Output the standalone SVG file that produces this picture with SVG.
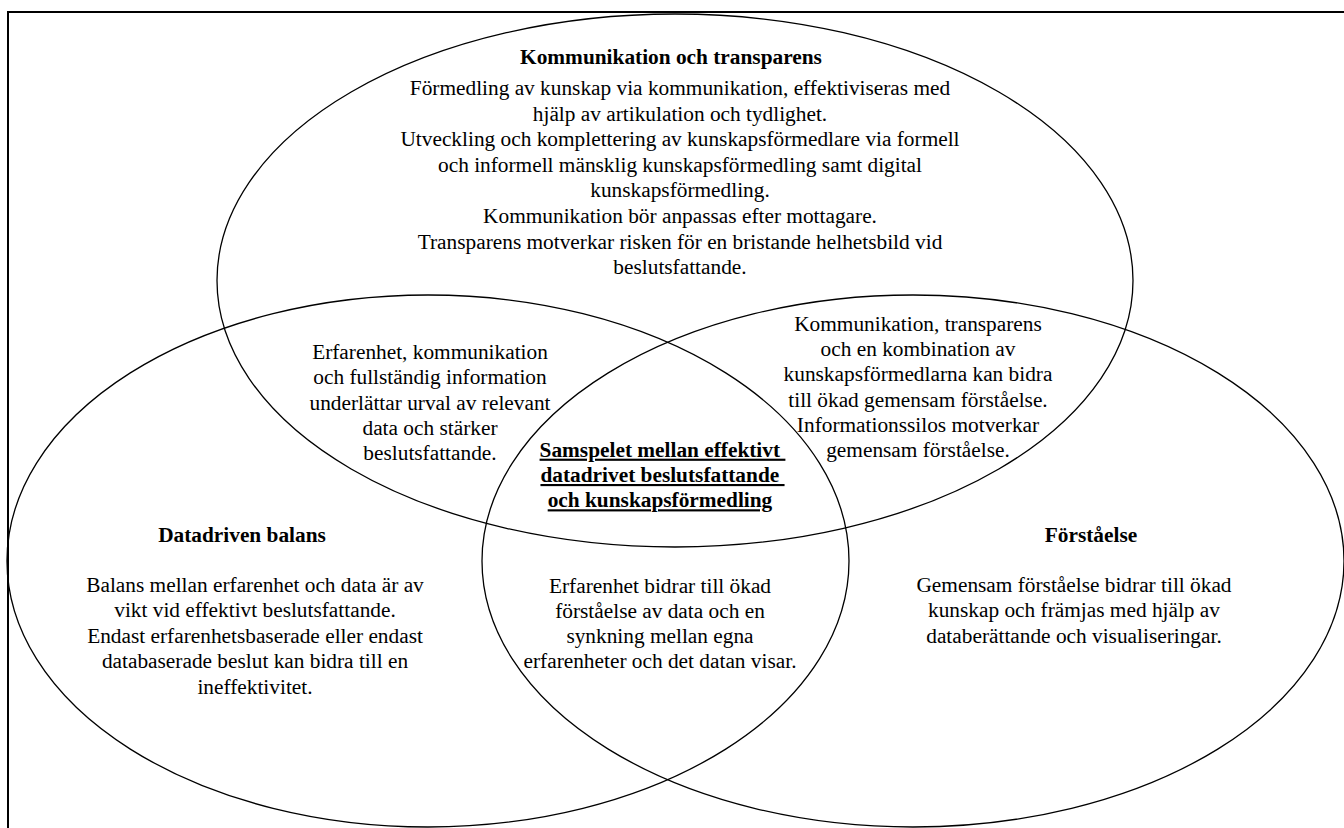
<svg xmlns="http://www.w3.org/2000/svg" width="1344" height="828" viewBox="0 0 1344 828">
<style>
text { font-family: "Liberation Serif", "Times New Roman", serif; font-size: 21.33px; fill: #000; text-anchor: middle; }
.b { font-weight: bold; }
.u { text-decoration: underline; white-space: pre; }
.ell { fill: none; stroke: #000; stroke-width: 1.3; }
</style>
<rect x="0" y="0" width="1344" height="828" fill="#fff"/>
<rect id="frame" x="8" y="12" width="1400" height="900" fill="none" stroke="#000" stroke-width="2"/>
<g id="connectors"/>
<g id="ellipses">
  <ellipse class="ell" cx="675" cy="280.5" rx="458" ry="266.5"/>
  <ellipse class="ell" cx="428" cy="561" rx="421" ry="266"/>
  <ellipse class="ell" cx="913" cy="561" rx="431" ry="266"/>
</g>
<g id="kommunikation">
  <text class="b" x="671" y="64">Kommunikation och transparens</text>
  <text x="680" y="95">Förmedling av kunskap via kommunikation, effektiviseras med</text>
  <text x="680" y="120.6">hjälp av artikulation och tydlighet.</text>
  <text x="680" y="146.2">Utveckling och komplettering av kunskapsförmedlare via formell</text>
  <text x="680" y="171.8">och informell mänsklig kunskapsförmedling samt digital</text>
  <text x="680" y="197.4">kunskapsförmedling.</text>
  <text x="680" y="223">Kommunikation bör anpassas efter mottagare.</text>
  <text x="680" y="248.6">Transparens motverkar risken för en bristande helhetsbild vid</text>
  <text x="680" y="274.2">beslutsfattande.</text>
</g>
<g id="overlap-left-top">
  <text x="430" y="359">Erfarenhet, kommunikation</text>
  <text x="430" y="384.3">och fullständig information</text>
  <text x="430" y="409.6">underlättar urval av relevant</text>
  <text x="430" y="435">data och stärker</text>
  <text x="430" y="460.3">beslutsfattande.</text>
</g>
<g id="overlap-right-top">
  <text x="918" y="330.7">Kommunikation, transparens</text>
  <text x="918" y="356">och en kombination av</text>
  <text x="918" y="381.3">kunskapsförmedlarna kan bidra</text>
  <text x="918" y="406.6">till ökad gemensam förståelse.</text>
  <text x="918" y="431.9">Informationssilos motverkar</text>
  <text x="918" y="457.2">gemensam förståelse.</text>
</g>
<g id="center">
  <text class="b u" x="662.5" y="456.7">Samspelet mellan effektivt </text>
  <text class="b u" x="662.5" y="482">datadrivet beslutsfattande </text>
  <text class="b u" x="660" y="507.3">och kunskapsförmedling</text>
</g>
<g id="overlap-left-right">
  <text x="660" y="592.5">Erfarenhet bidrar till ökad</text>
  <text x="660" y="617.8">förståelse av data och en</text>
  <text x="660" y="643.1">synkning mellan egna</text>
  <text x="660" y="668.4">erfarenheter och det datan visar.</text>
</g>
<g id="datadriven-balans">
  <text class="b" x="242" y="542">Datadriven balans</text>
  <text x="255" y="592">Balans mellan erfarenhet och data är av</text>
  <text x="255" y="617.4">vikt vid effektivt beslutsfattande.</text>
  <text x="255" y="642.8">Endast erfarenhetsbaserade eller endast</text>
  <text x="255" y="668.2">databaserade beslut kan bidra till en</text>
  <text x="255" y="693.6">ineffektivitet.</text>
</g>
<g id="forstaelse">
  <text class="b" x="1091" y="542">Förståelse</text>
  <text x="1074" y="592">Gemensam förståelse bidrar till ökad</text>
  <text x="1074" y="617.4">kunskap och främjas med hjälp av</text>
  <text x="1074" y="642.8">databerättande och visualiseringar.</text>
</g>
</svg>
